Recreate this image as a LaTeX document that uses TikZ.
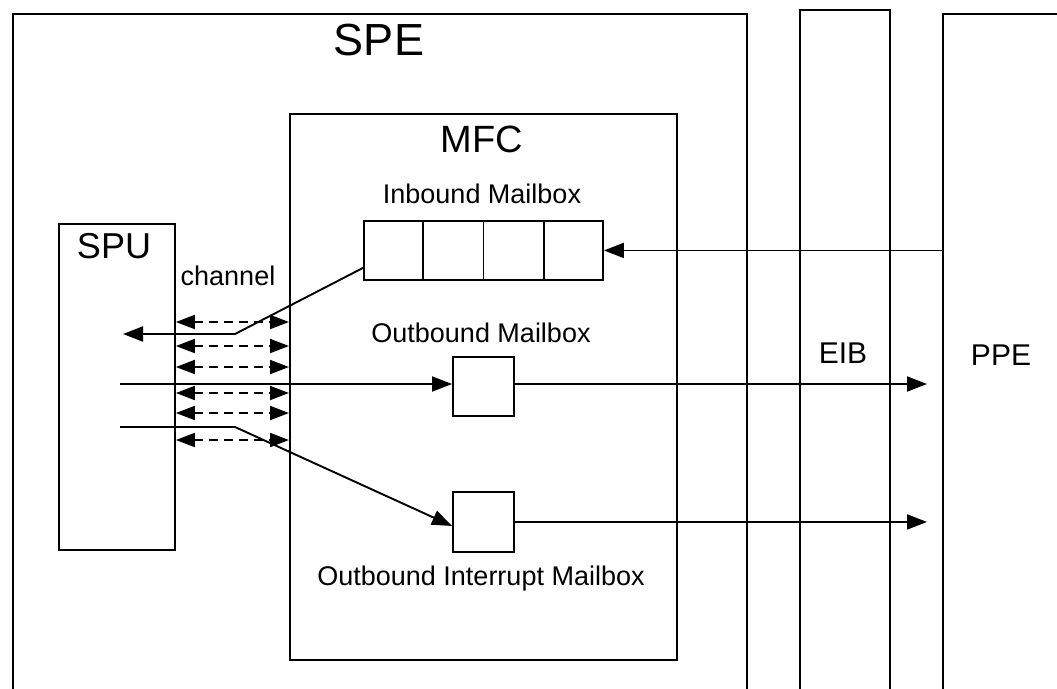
\documentclass[tikz,border=0pt]{standalone}
\usepackage{fontspec}
\setmainfont{Liberation Sans}
\usetikzlibrary{arrows.meta,calc}
\tikzset{
  blk/.style     = {draw,line width=1.9pt,inner sep=0pt,anchor=north west},
  lbl/.style     = {anchor=base,inner sep=0pt,font=\fontsize{27}{32}\selectfont},
  sigarr/.style  = {-{Triangle[length=20pt,width=15pt]},line width=1.9pt},
  chanarr/.style = {{Triangle[length=19pt,width=14pt]}-{Triangle[length=19pt,width=14pt]},
                    line width=1.9pt,dash pattern=on 9pt off 6pt}
}

\begin{document}
\begin{tikzpicture}[x=1pt,y=-1pt]
  \useasboundingbox (0,0) rectangle (1057,688);
  \node[blk,minimum width=734,minimum height=710] (spe) at (12,13) {};
  \node[blk,minimum width=90,minimum height=715]  (eib) at (799,9) {};
  \node[blk,minimum width=140,minimum height=710] (ppe) at (942,13) {};
  \node[blk,minimum width=387,minimum height=546] (mfc) at (289,113) {};
  \node[blk,minimum width=116,minimum height=326] (spu) at (58,223) {};
  \node[blk,minimum width=239,minimum height=59]  (inb) at (363,220) {};
  \node[blk,minimum width=61,minimum height=59]   (obm) at (452,356) {};
  \node[blk,minimum width=61,minimum height=60]   (oim) at (452,491) {};
  \foreach \f in {0.25,0.5,0.75}
    \draw[line width=1.9pt] ($(inb.north west)!\f!(inb.north east)$)
                         -- ($(inb.south west)!\f!(inb.south east)$);

  \node[lbl,font=\fontsize{45}{50}\selectfont] (speL) at (379,55)  {SPE};
  \node[lbl,font=\fontsize{38}{42}\selectfont] (mfcL) at (482,152) {MFC};
  \node[lbl,font=\fontsize{36}{40}\selectfont] (spuL) at (114,258) {SPU};
  \node[lbl,font=\fontsize{30}{34}\selectfont] (eibL) at (843,363) {EIB};
  \node[lbl,font=\fontsize{30}{34}\selectfont] (ppeL) at (1001,365) {PPE};
  \node[lbl] (inbL) at (482,203) {Inbound Mailbox};
  \node[lbl] (obmL) at (481,342) {Outbound Mailbox};
  \node[lbl] (oimL) at (481,585) {Outbound Interrupt Mailbox};
  \node[lbl] (chL)  at (228,285) {channel};

  \foreach \y in {322,346,367,393,413,440}
    \draw[chanarr] (spu.east |- 0,\y) -- (mfc.west |- 0,\y);

  \coordinate (inKink) at (235,334);
  \coordinate (inTip)  at (123,334);
  \coordinate (obSrc)  at (120,384);
  \coordinate (oiSrc)  at (120,427);
  \coordinate (oiKink) at (235,427);

  \draw[sigarr] (ppe.west |- inb.east) -- (inb.east);
  \draw[sigarr] ($(inb.south west)+(0,-13)$) -- (inKink) -- (inTip);
  \draw[sigarr] (obSrc) -- (obSrc -| obm.west);
  \draw[sigarr,shorten >=15pt] (obSrc -| obm.east) -- (obSrc -| ppe.west);
  \draw[sigarr] (oiSrc) -- (oiKink) -- ($(oim.west)+(0,4)$);
  \draw[sigarr,shorten >=15pt] (oim.east) -- (oim.east -| ppe.west);
\end{tikzpicture}
\end{document}
